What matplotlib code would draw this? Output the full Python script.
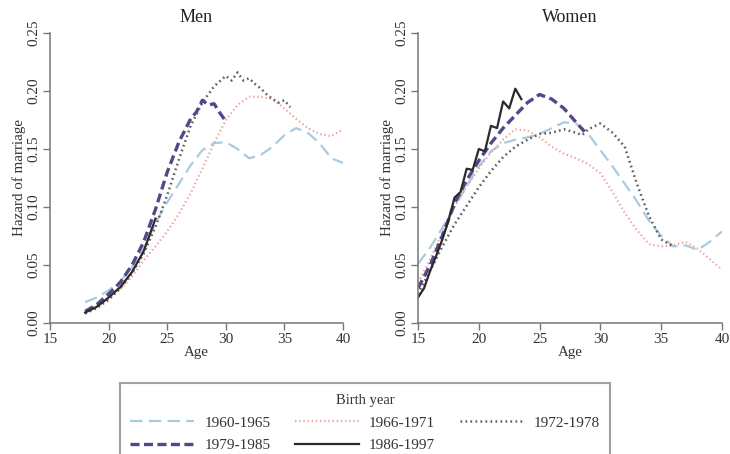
import matplotlib
matplotlib.use('Agg')
import matplotlib.pyplot as plt
from matplotlib.ticker import FormatStrFormatter

plt.rcParams['font.family'] = 'Liberation Serif'
plt.rcParams['lines.scale_dashes'] = False

# Birth cohorts
cohorts = ['1960-1965', '1966-1971', '1972-1978', '1979-1985', '1986-1997']

# Men
men_age_6065 = [18, 19, 20, 21, 22, 23, 24, 25, 26, 27, 28, 29, 30, 31, 32, 33, 34, 35, 36, 37, 38, 39, 40]
men_haz_6065 = [0.018, 0.022, 0.028, 0.036, 0.048, 0.064, 0.086, 0.104, 0.120, 0.136, 0.149, 0.155, 0.156,
                0.150, 0.142, 0.145, 0.152, 0.162, 0.168, 0.164, 0.155, 0.142, 0.138]
men_age_6671 = [18, 19, 20, 21, 22, 23, 24, 25, 26, 27, 28, 29, 30, 31, 32, 33, 34, 35, 36, 37, 38, 39, 40]
men_haz_6671 = [0.011, 0.015, 0.021, 0.029, 0.040, 0.054, 0.066, 0.079, 0.094, 0.112, 0.133, 0.155, 0.175,
                0.188, 0.195, 0.195, 0.193, 0.185, 0.176, 0.168, 0.163, 0.161, 0.167]
men_age_7278 = [18, 19, 20, 21, 22, 23, 24, 25, 26, 27, 28, 29, 30, 30.5, 31, 31.5, 32, 32.5, 33, 33.5,
                34, 34.5, 35, 35.5]
men_haz_7278 = [0.008, 0.013, 0.020, 0.030, 0.043, 0.060, 0.083, 0.110, 0.141, 0.170, 0.190, 0.204, 0.213,
                0.209, 0.216, 0.209, 0.211, 0.206, 0.202, 0.197, 0.193, 0.190, 0.192, 0.186]
men_age_7985 = [18, 19, 20, 21, 22, 23, 24, 25, 26, 26.5, 27, 27.5, 28, 28.5, 29, 29.5, 30]
men_haz_7985 = [0.010, 0.016, 0.025, 0.035, 0.050, 0.070, 0.098, 0.130, 0.156, 0.166, 0.176, 0.182, 0.192,
                0.188, 0.189, 0.181, 0.174]
men_age_8697 = [18, 19, 20, 21, 22, 23, 24]
men_haz_8697 = [0.009, 0.014, 0.022, 0.031, 0.044, 0.062, 0.090]

# Women
wom_age_6065 = [15, 16, 17, 18, 19, 20, 21, 22, 23, 24, 25, 26, 27, 28, 29, 30, 31, 32, 33, 34, 35, 36,
                37, 38, 39, 40]
wom_haz_6065 = [0.051, 0.065, 0.082, 0.100, 0.118, 0.135, 0.148, 0.155, 0.158, 0.160, 0.163, 0.168, 0.173,
                0.172, 0.163, 0.149, 0.135, 0.120, 0.105, 0.088, 0.075, 0.066, 0.067, 0.063, 0.070, 0.079]
wom_age_6671 = [15, 16, 17, 18, 19, 20, 21, 22, 23, 24, 25, 26, 27, 28, 29, 30, 31, 32, 33, 34, 35, 36,
                37, 38, 39, 40]
wom_haz_6671 = [0.035, 0.055, 0.078, 0.100, 0.118, 0.133, 0.147, 0.158, 0.167, 0.166, 0.160, 0.152, 0.146,
                0.142, 0.137, 0.129, 0.113, 0.095, 0.080, 0.068, 0.066, 0.067, 0.070, 0.064, 0.055, 0.046]
wom_age_7278 = [15, 16, 17, 18, 19, 20, 21, 22, 23, 24, 25, 26, 27, 28, 28.5, 29, 30, 31, 32, 33, 34, 35, 36]
wom_haz_7278 = [0.025, 0.045, 0.066, 0.085, 0.101, 0.117, 0.131, 0.143, 0.152, 0.158, 0.163, 0.164, 0.167,
                0.164, 0.162, 0.167, 0.172, 0.164, 0.152, 0.120, 0.092, 0.072, 0.066]
wom_age_7985 = [15, 16, 17, 18, 19, 20, 21, 22, 23, 24, 25, 26, 27, 28, 28.7]
wom_haz_7985 = [0.030, 0.050, 0.075, 0.103, 0.123, 0.140, 0.155, 0.168, 0.179, 0.190, 0.197, 0.193, 0.185,
                0.173, 0.165]
wom_age_8697 = [15, 15.5, 16, 16.5, 17, 17.5, 18, 18.5, 19, 19.5, 20, 20.5, 21, 21.5, 22, 22.5, 23, 23.5]
wom_haz_8697 = [0.022, 0.030, 0.045, 0.058, 0.072, 0.088, 0.108, 0.113, 0.133, 0.132, 0.150, 0.148, 0.170,
                0.168, 0.191, 0.185, 0.202, 0.193]

men_data = [(men_age_6065, men_haz_6065), (men_age_6671, men_haz_6671), (men_age_7278, men_haz_7278),
            (men_age_7985, men_haz_7985), (men_age_8697, men_haz_8697)]
wom_data = [(wom_age_6065, wom_haz_6065), (wom_age_6671, wom_haz_6671), (wom_age_7278, wom_haz_7278),
            (wom_age_7985, wom_haz_7985), (wom_age_8697, wom_haz_8697)]

# line styles per cohort
styles = [
    dict(color='#a9cbe0', lw=1.6, dashes=(9, 4.5)),
    dict(color='#eea49c', lw=1.6, dashes=(1.0, 2.0)),
    dict(color='#5c5c5c', lw=1.8, dashes=(1.2, 2.4)),
    dict(color='#54488a', lw=2.4, dashes=(6.5, 3.2)),
    dict(color='#2a2a2a', lw=1.6, linestyle='-'),
]

fig = plt.figure(figsize=(7.3, 4.54), dpi=100)
ax_men = fig.add_axes([50 / 730, 1 - 323 / 454, 293 / 730, 290 / 454])
ax_wom = fig.add_axes([418 / 730, 1 - 323 / 454, 304 / 730, 290 / 454])

handles = []
for ax, data, title in [(ax_men, men_data, 'Men'), (ax_wom, wom_data, 'Women')]:
    for (ages, haz), st, lab in zip(data, styles, cohorts):
        ln, = ax.plot(ages, haz, label=lab, **st)
        if ax is ax_men:
            handles.append(ln)
    ax.set_xlim(15, 40)
    ax.set_ylim(0, 0.25)
    ax.set_xticks([15, 20, 25, 30, 35, 40])
    ax.set_yticks([0, 0.05, 0.10, 0.15, 0.20, 0.25])
    ax.yaxis.set_major_formatter(FormatStrFormatter('%.2f'))
    for lbl in ax.get_yticklabels():
        lbl.set_rotation(90)
        lbl.set_va('center')
    ax.spines['top'].set_visible(False)
    ax.spines['right'].set_visible(False)
    for s in ['left', 'bottom']:
        ax.spines[s].set_color('#777777')
        ax.spines[s].set_linewidth(1.1)
    ax.tick_params(direction='out', length=5, width=1, color='#777777', labelsize=11,
                   labelcolor='#333333', pad=2)
    ax.set_title(title, fontsize=13, color='#222222', pad=8)
    ax.set_xlabel('Age', fontsize=10.8, color='#333333', labelpad=0)
    ax.set_ylabel('Hazard of marriage', fontsize=10.8, color='#333333', labelpad=1)

# legend: order so columns fill row-wise
order = [0, 3, 1, 4, 2]
leg = fig.legend([handles[i] for i in order], [cohorts[i] for i in order],
                 loc='upper center', bbox_to_anchor=(365 / 730, 1 - 383 / 454),
                 ncol=3, title='Birth year', fontsize=11, title_fontsize=10.5,
                 handlelength=4.2, handletextpad=0.65, columnspacing=1.6,
                 frameon=True, fancybox=False, borderpad=0.7, labelspacing=0.6,
                 borderaxespad=0)
leg.get_frame().set_edgecolor('#888888')
leg.get_frame().set_linewidth(1.5)
for t in leg.get_texts():
    t.set_color('#333333')
leg.get_title().set_color('#333333')

fig.savefig('out.png', dpi=100)
